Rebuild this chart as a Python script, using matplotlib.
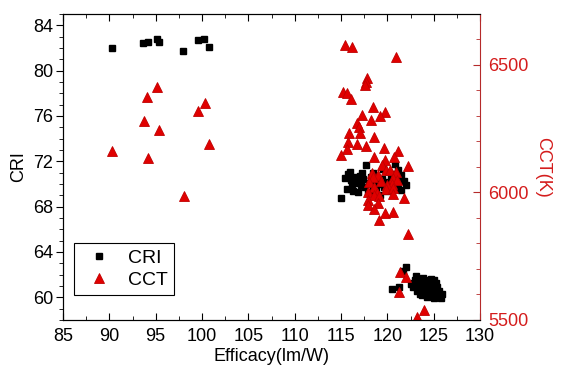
import matplotlib
matplotlib.use("Agg")
import matplotlib.pyplot as plt
from matplotlib.ticker import MultipleLocator

plt.rcParams['font.family'] = ['Liberation Sans', 'DejaVu Sans']

# CRI data (efficacy lm/W, CRI)
cri_x = [90.25, 93.67, 94.17, 95.1, 95.35, 97.95, 99.57, 100.25, 100.75,
         115.0, 115.4, 115.6, 115.8, 116.0, 116.1, 116.3, 116.5, 116.7, 116.9,
         117.2, 117.4, 117.6, 117.7, 117.9, 118.0, 118.2, 118.4, 118.6, 118.8,
         119.0, 119.2, 119.4, 119.6, 119.8, 120.0, 120.2, 120.4, 120.6, 120.8,
         121.0, 121.2, 121.5, 121.5, 121.8, 122.0, 116.2, 117.0, 118.5, 119.5,
         120.5, 116.8, 118.3, 121.2, 117.3,
         120.5, 121.25, 121.7, 122.0, 122.6, 122.8, 123.0, 123.1, 123.2, 123.4,
         123.5, 123.6, 123.8, 123.9, 124.0, 124.1, 124.2, 124.3, 124.4, 124.5,
         124.6, 124.7, 124.8, 124.9, 125.0, 125.1, 125.2, 125.3, 125.4, 125.5,
         125.6, 125.8, 125.9, 122.9, 123.3, 123.7, 124.5, 125.0, 124.2]
cri_y = [82.0, 82.4, 82.5, 82.8, 82.55, 81.75, 82.7, 82.8, 82.1,
         68.75, 70.5, 69.6, 70.9, 71.1, 70.35, 69.4, 70.6, 70.05, 70.3,
         69.9, 70.4, 69.7, 71.65, 69.3, 70.1, 70.6, 69.8, 70.3, 69.5,
         70.0, 69.0, 70.4, 69.7, 70.2, 69.4, 70.0, 70.5, 69.8, 71.8,
         70.2, 69.6, 70.8, 69.5, 70.3, 69.9, 70.0, 70.7, 71.0, 71.3,
         70.9, 69.3, 69.2, 71.2, 71.0,
         60.7, 60.95, 62.35, 62.65, 61.2, 60.9, 61.5, 61.85, 60.6, 61.1,
         60.3, 61.6, 60.8, 61.7, 61.2, 60.4, 61.5, 60.0, 60.9, 61.3,
         60.6, 61.6, 60.2, 61.0, 59.9, 60.7, 61.3, 60.4, 60.9, 60.1,
         60.6, 59.9, 60.3, 61.3, 60.9, 60.2, 60.5, 61.5, 60.7]

# CCT data (efficacy lm/W, CCT K)
cct_x = [90.3, 94.06, 95.18, 93.74, 95.4, 94.2, 99.6, 100.3, 100.8, 98.06,
         115.43, 116.2, 120.9, 117.77, 117.7, 117.6, 115.2, 115.7, 116.04,
         118.4, 119.7, 119.2, 117.3, 118.2, 116.7, 116.9,
         115.9, 117.05, 118.6, 115.8, 116.7, 117.7, 115.7, 119.6, 115.0,
         118.6, 121.2, 120.75, 119.75, 119.4, 122.2, 118.3,
         119.9, 120.3, 120.9, 119.0, 118.4, 120.6, 121.0, 119.3, 118.0,
         120.5, 120.0, 118.6, 119.9, 120.6, 117.9, 118.9, 118.6, 119.1,
         120.6, 117.9, 119.0, 121.8, 117.9, 118.6, 119.7, 120.6, 119.1,
         122.27, 121.4, 122.0, 121.3, 123.96, 123.2]
cct_y = [6164, 6376, 6413, 6280, 6246, 6134, 6318, 6351, 6189, 5987,
         6578, 6569, 6530, 6450, 6435, 6420, 6395, 6389, 6367,
         6334, 6317, 6300, 6304, 6284, 6274, 6258,
         6235, 6235, 6219, 6199, 6190, 6184, 6171, 6176, 6147,
         6140, 6164, 6140, 6127, 6108, 6105, 6075,
         6090, 6088, 6082, 6068, 6060, 6055, 6050, 6045, 6040,
         6035, 6030, 6022, 6012, 6018, 6000, 5998, 5990, 5988,
         5995, 5970, 5960, 5980, 5950, 5935, 5918, 5922, 5892,
         5836, 5689, 5667, 5611, 5539, 5510]

RED_TXT = '#d41c1c'
RED_AX = '#b52a2a'
RED_MK = '#e00000'

fig = plt.figure(figsize=(5.63, 3.83), dpi=100)
ax = fig.add_axes([0.1119, 0.1645, 0.7407, 0.799])
ax2 = ax.twinx()

h1, = ax.plot(cri_x, cri_y, linestyle='none', marker='s', markersize=4.2,
              color='black', label='CRI')
h2, = ax2.plot(cct_x, cct_y, linestyle='none', marker='^', markersize=6.5,
               markerfacecolor=RED_MK, markeredgecolor='#c00000',
               markeredgewidth=0.6, label='CCT')

ax.set_xlim(85, 130)
ax.set_ylim(58, 85)
ax2.set_ylim(5500, 6700)

ax.xaxis.set_major_locator(MultipleLocator(5))
ax.xaxis.set_minor_locator(MultipleLocator(2.5))
ax.yaxis.set_major_locator(MultipleLocator(4))
ax.yaxis.set_minor_locator(MultipleLocator(1))
ax2.yaxis.set_major_locator(MultipleLocator(500))
ax2.yaxis.set_minor_locator(MultipleLocator(100))

ax.tick_params(axis='x', which='both', direction='in', top=True, labelsize=13,
               pad=6)
ax.tick_params(axis='x', which='major', length=5)
ax.tick_params(axis='x', which='minor', length=3)
ax.tick_params(axis='y', which='both', direction='out', labelsize=13, pad=2)
ax.tick_params(axis='y', which='major', length=5)
ax.tick_params(axis='y', which='minor', length=3)
ax2.tick_params(axis='y', which='both', direction='in', colors=RED_AX,
                labelcolor=RED_TXT, labelsize=13, pad=6)
ax2.tick_params(axis='y', which='major', length=5)
ax2.tick_params(axis='y', which='minor', length=3)

ax2.spines['right'].set_color(RED_AX)
for a in (ax, ax2):
    for s in ('left', 'top', 'bottom'):
        a.spines[s].set_color('black')
ax.spines['right'].set_visible(False)

ax.set_xlabel('Efficacy(lm/W)', fontsize=13, labelpad=2)
ax.set_ylabel('CRI', fontsize=13, labelpad=4)
ax2.set_ylabel('CCT(K)', fontsize=13, color=RED_TXT, rotation=270, labelpad=16)

leg = ax2.legend(handles=[h1, h2], loc='lower left',
                 bbox_to_anchor=(0.026, 0.082), borderaxespad=0,
                 fontsize=14, frameon=True,
                 fancybox=False, edgecolor='black', framealpha=1,
                 borderpad=0.3, handletextpad=0.5, labelspacing=0.25,
                 handlelength=2.0)
leg.get_frame().set_linewidth(0.8)

fig.savefig('out.png', dpi=100)
